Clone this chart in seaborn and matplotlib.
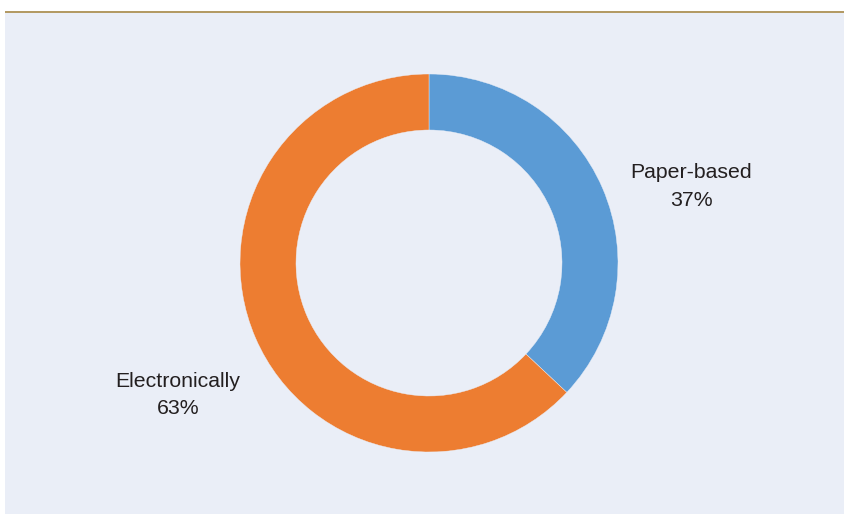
import matplotlib
matplotlib.use("Agg")
import matplotlib.pyplot as plt
from matplotlib.patches import Rectangle
import seaborn as sns

# Survey response: how the form was submitted
categories = ["Paper-based", "Electronically"]
shares = [37, 63]
palette = ["#5B9BD5", "#ED7D31"]

sns.set_theme(style="white")
plt.rcParams["font.family"] = ["Liberation Sans", "DejaVu Sans"]

W, H = 845, 514
fig = plt.figure(figsize=(W / 100, H / 100), dpi=100)
fig.patch.set_facecolor("white")

ax = fig.add_axes([0, 0, 1, 1])

# light panel with a gold rule along its top
ax.add_patch(Rectangle((5, 0), W - 5, H - 12.5, facecolor="#EAEEF7", edgecolor="none", zorder=0))
ax.add_patch(Rectangle((5, H - 13.2), W - 5, 2.4, facecolor="#B39A64", edgecolor="none", zorder=1))

cx, cy, r = 429, H - 263, 189
wedges, _ = ax.pie(
    shares,
    colors=sns.color_palette(palette),
    startangle=90,
    counterclock=False,
    center=(cx, cy),
    radius=r,
    frame=True,
    wedgeprops=dict(width=56, edgecolor="#EAEEF7", linewidth=0.3),
)
ax.set_xlim(0, W)
ax.set_ylim(0, H)
ax.set_aspect("equal")
ax.axis("off")

label_pos = [(691, H - 186.5), (178, H - 395)]
for name, val, (tx, ty) in zip(categories, shares, label_pos):
    ax.text(tx, ty, f"{name}\n{val}%", ha="center", va="center",
            fontsize=15.3, color="#231F20", linespacing=1.55)

fig.savefig("out.png", dpi=100, facecolor=fig.get_facecolor())
